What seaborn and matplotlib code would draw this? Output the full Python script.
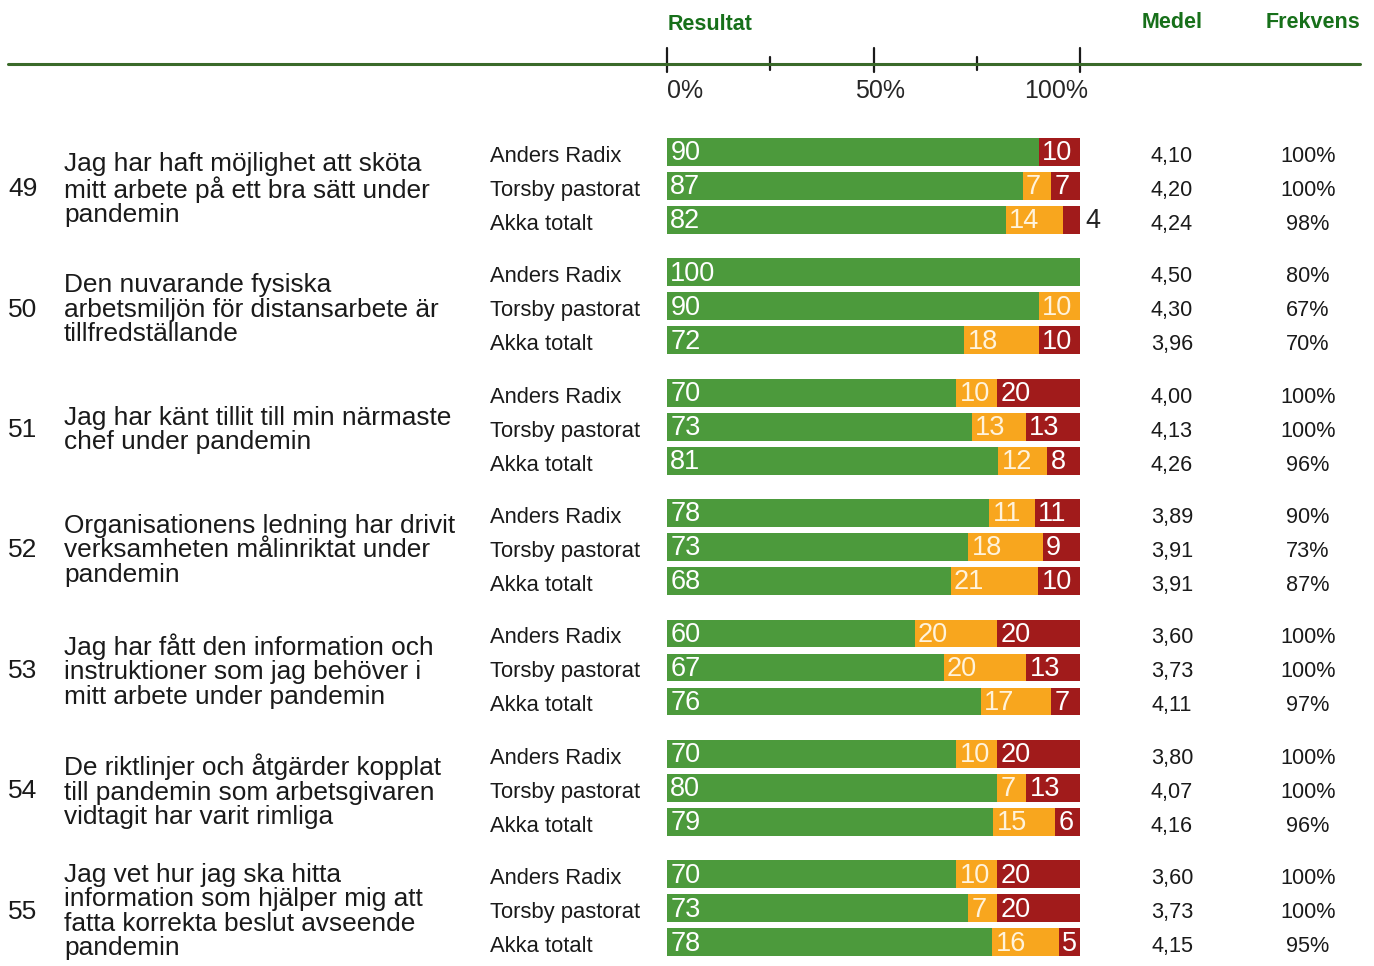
import numpy as np
import pandas as pd
import matplotlib.pyplot as plt
import matplotlib.transforms as mtransforms
import seaborn as sns

sns.set_style("white")
plt.rcParams['font.family'] = ['Liberation Sans', 'DejaVu Sans']

# Data
numbers = [49, 50, 51, 52, 53, 54, 55]
questions = [
    "Jag har haft möjlighet att sköta\nmitt arbete på ett bra sätt under\npandemin",
    "Den nuvarande fysiska\narbetsmiljön för distansarbete är\ntillfredställande",
    "Jag har känt tillit till min närmaste\nchef under pandemin",
    "Organisationens ledning har drivit\nverksamheten målinriktat under\npandemin",
    "Jag har fått den information och\ninstruktioner som jag behöver i\nmitt arbete under pandemin",
    "De riktlinjer och åtgärder kopplat\ntill pandemin som arbetsgivaren\nvidtagit har varit rimliga",
    "Jag vet hur jag ska hitta\ninformation som hjälper mig att\nfatta korrekta beslut avseende\npandemin",
]
groups = ["Anders Radix", "Torsby pastorat", "Akka totalt"]
green = [90, 87, 82, 100, 90, 72, 70, 73, 81, 78, 73, 68, 60, 67, 76, 70, 80, 79, 70, 73, 78]
orange = [0, 7, 14, 0, 10, 18, 10, 13, 12, 11, 18, 21, 20, 20, 17, 10, 7, 15, 10, 7, 16]
red = [10, 7, 4, 0, 0, 10, 20, 13, 8, 11, 9, 10, 20, 13, 7, 20, 13, 6, 20, 20, 5]
medel = ["4,10", "4,20", "4,24", "4,50", "4,30", "3,96", "4,00", "4,13", "4,26",
         "3,89", "3,91", "3,91", "3,60", "3,73", "4,11", "3,80", "4,07", "4,16",
         "3,60", "3,73", "4,15"]
frekvens = ["100%", "100%", "98%", "80%", "67%", "70%", "100%", "100%", "96%",
            "90%", "73%", "87%", "100%", "100%", "97%", "100%", "100%", "96%",
            "100%", "100%", "95%"]

GREEN = "#4c9a3c"
ORANGE = "#f8a61e"
RED = "#a11b1b"
HEAD = "#17701a"

W, H = 1374, 966
GROUP_STEP = 3.54   # rows between group starts
ROW_PX = 34.0       # pixels per row
FIRST_PX = 152.0    # pixel y of first row centre
TXT_DY = 0.13       # side texts sit a little lower than the bars

rows = []
for g in range(len(numbers)):
    for r in range(3):
        rows.append((g, r, g * GROUP_STEP + r))
df = pd.DataFrame(rows, columns=["grp", "row", "pos"])
df["green"] = green
df["orange"] = orange
df["red"] = red
tot = df[["green", "orange", "red"]].sum(axis=1).replace(0, 1)
df["c1"] = df["green"] / tot * 100
df["c2"] = (df["green"] + df["orange"]) / tot * 100
df["c3"] = 100.0 * (tot > 0)

fig = plt.figure(figsize=(W / 100, H / 100), dpi=100)
ax = fig.add_axes([667 / W, 0, 413 / W, 1])

for col, c in [("c3", RED), ("c2", ORANGE), ("c1", GREEN)]:
    sns.barplot(data=df, x=col, y="pos", orient="y", native_scale=True,
                color=c, saturation=1, width=0.82, errorbar=None,
                linewidth=0, ax=ax)

ax.set_xlim(0, 100)
ax.set_ylim((H - FIRST_PX) / ROW_PX, -FIRST_PX / ROW_PX)
ax.set_axis_off()

# segment labels
pad = 0.8
for d in df.itertuples():
    y = d.pos + 0.04
    if d.green > 0:
        ax.text(pad, y, str(d.green), color="white", fontsize=19.5,
                ha="left", va="center")
    if d.orange > 0:
        ax.text(d.c1 + pad, y, str(d.orange), color="#fff3dc",
                fontsize=19.5, ha="left", va="center")
    if d.red > 0:
        if d.red < 5:
            ax.text(100 + 1.2, y, str(d.red), color="#222222",
                    fontsize=19.5, ha="left", va="center", clip_on=False)
        else:
            ax.text(d.c2 + pad, y, str(d.red), color="white",
                    fontsize=19.5, ha="left", va="center")

# text columns outside the bar area
tr = mtransforms.blended_transform_factory(fig.transFigure, ax.transData)
for i, d in enumerate(df.itertuples()):
    y = d.pos + TXT_DY
    ax.text(490 / W, y, groups[d.row], transform=tr, fontsize=15.8,
            ha="left", va="center", color="#1a1a1a")
    ax.text(1172 / W, y, medel[i], transform=tr, fontsize=15.6,
            ha="center", va="center", color="#1a1a1a")
    ax.text(1308 / W, y, frekvens[i], transform=tr, fontsize=15.6,
            ha="center", va="center", color="#1a1a1a")

for g, (num, q) in enumerate(zip(numbers, questions)):
    yc = g * GROUP_STEP + 1 + 0.1
    ax.text(23 / W, yc, str(num), transform=tr, fontsize=19,
            ha="center", va="center", color="#1a1a1a")
    ax.text(64 / W, yc, q, transform=tr, fontsize=18.9, linespacing=1.02,
            ha="left", va="center", color="#1a1a1a")

# header
def fy(py):
    return 1 - py / H

fig.add_artist(plt.Line2D([8 / W, 1360 / W], [fy(64), fy(64)],
                          color="#3a6a2a", lw=2.2))
trh = mtransforms.blended_transform_factory(ax.transData, fig.transFigure)
for t in [0, 25, 50, 75, 100]:
    top, bot = (48, 72) if t % 50 == 0 else (57, 70)
    ax.plot([t, t], [fy(top), fy(bot)], transform=trh, color="#1a1a1a",
            lw=1.6, clip_on=False)
ax.text(0, fy(91), "0%", transform=trh, fontsize=18, ha="left", va="center")
ax.text(51.5, fy(91), "50%", transform=trh, fontsize=18, ha="center", va="center")
ax.text(102, fy(91), "100%", transform=trh, fontsize=18, ha="right", va="center")

fig.text(668 / W, fy(24), "Resultat", fontsize=15.5, fontweight="bold",
         color=HEAD, ha="left", va="center")
fig.text(1172 / W, fy(23), "Medel", fontsize=15.5, fontweight="bold",
         color=HEAD, ha="center", va="center")
fig.text(1313 / W, fy(23), "Frekvens", fontsize=15.5, fontweight="bold",
         color=HEAD, ha="center", va="center")

fig.savefig("out.png", dpi=100)
